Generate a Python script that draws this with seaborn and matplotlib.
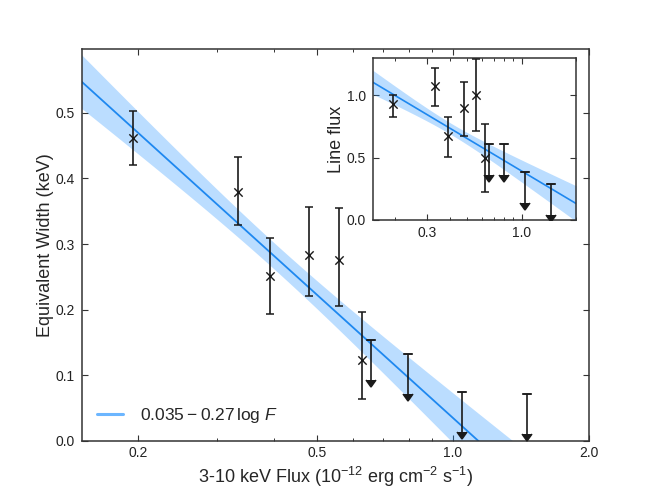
import numpy as np
import matplotlib
matplotlib.use("Agg")
import matplotlib.pyplot as plt
from matplotlib.lines import Line2D
from matplotlib.ticker import MultipleLocator, FormatStrFormatter, NullFormatter, FixedLocator, FuncFormatter
import seaborn as sns

# ---------------- data ----------------
# source fluxes (1e-12 erg/cm2/s)
det_flux = [0.195, 0.333, 0.392, 0.478, 0.558, 0.629]
ul_flux = [0.658, 0.796, 1.048, 1.46]

# main panel: equivalent width (keV)
ew = [0.461, 0.380, 0.252, 0.284, 0.276, 0.124]
ew_err_lo = [0.041, 0.051, 0.058, 0.063, 0.070, 0.060]
ew_err_hi = [0.042, 0.053, 0.057, 0.073, 0.079, 0.072]
ew_ul = [0.154, 0.133, 0.074, 0.071]

# inset: line flux
lf = [0.93, 1.072, 0.672, 0.896, 1.003, 0.496]
lf_err_lo = [0.106, 0.160, 0.163, 0.224, 0.291, 0.272]
lf_err_hi = [0.073, 0.147, 0.157, 0.208, 0.287, 0.275]
lf_ul = [0.611, 0.611, 0.384, 0.288]

# fits: y = a + b ln F, band half-width sqrt(w0^2 + (ws (lnF - c))^2)
fit_main = dict(a=0.035, b=-0.27, c=-0.9, w0=0.020, ws=0.0358)
fit_inset = dict(a=0.392, b=-0.376, c=-0.9, w0=0.045, ws=0.085)

fit_label = r"$0.035\:-\:0.27\,\log\,F$"
xlabel = r"3-10 keV Flux (10$^{-12}$ erg cm$^{-2}$ s$^{-1}$)"
ylabel_main = "Equivalent Width (keV)"
ylabel_inset = "Line flux"
main_xticks = [0.2, 0.5, 1.0, 2.0]
main_xminor = [0.3, 0.4, 0.6, 0.7, 0.8, 0.9]
inset_xticks = [0.3, 1.0]
inset_xminor = [0.2, 0.4, 0.5, 0.6, 0.7, 0.8, 0.9, 2.0]

# ---------------- style ----------------
sns.set_style("ticks")
plt.rcParams["font.family"] = ["Liberation Sans", "DejaVu Sans"]
plt.rcParams["mathtext.fontset"] = "custom"
plt.rcParams["mathtext.rm"] = "Liberation Sans"
plt.rcParams["mathtext.it"] = "Liberation Sans:italic"
plt.rcParams["mathtext.bf"] = "Liberation Sans:bold"

BLUE = "#1e88f0"
BAND = "#1e90ff"
EC = "#1a1a1a"
FRAME = "#333333"

fig = plt.figure(figsize=(6.54, 4.91), dpi=100)
ax = fig.add_axes([0.125, 0.102, 0.775, 0.798])
axin = fig.add_axes([0.570, 0.552, 0.311, 0.330])

xgrid = np.geomspace(0.15, 2.0, 300)
fmt1 = FuncFormatter(lambda v, p: f"{v:.1f}")


def draw(axx, yv, lo, hi, ul, ul_len, fit, majors, minors, lw_line=1.3):
    lnx = np.log(xgrid)
    yfit = fit["a"] + fit["b"] * lnx
    w = np.sqrt(fit["w0"] ** 2 + (fit["ws"] * (lnx - fit["c"])) ** 2)
    axx.fill_between(xgrid, yfit - w, yfit + w, color=BAND, alpha=0.3, lw=0, zorder=1)
    sns.lineplot(x=xgrid, y=yfit, ax=axx, color=BLUE, lw=lw_line, zorder=2, legend=False)
    axx.errorbar(det_flux, yv, yerr=[lo, hi], fmt="none", ecolor=EC, elinewidth=1.2,
                 capsize=3, capthick=1.1, zorder=3)
    sns.scatterplot(x=det_flux, y=yv, ax=axx, marker="x", color=EC, s=36,
                    linewidth=1.0, zorder=4, legend=False)
    eb = axx.errorbar(ul_flux, ul, yerr=ul_len, uplims=True, fmt="none", ecolor=EC,
                      elinewidth=1.2, capsize=3, capthick=1.1, zorder=3)
    for cl in eb[1]:
        cl.set_markerfacecolor(EC)
        cl.set_markeredgecolor(EC)
        cl.set_markersize(6.5)
    axx.plot(ul_flux, ul, ls="none", marker="_", ms=6, mew=1.1, color=EC, zorder=3)
    axx.set_xscale("log")
    axx.set_xlim(0.15, 2.0)
    axx.xaxis.set_major_locator(FixedLocator(majors))
    axx.xaxis.set_major_formatter(fmt1)
    axx.xaxis.set_minor_locator(FixedLocator(minors))
    axx.xaxis.set_minor_formatter(NullFormatter())
    for s in axx.spines.values():
        s.set_color(FRAME)
        s.set_linewidth(1.1)
    axx.tick_params(which="both", direction="in", top=True, right=True,
                    colors=FRAME, labelcolor="#222222")
    axx.tick_params(which="major", length=4.5, width=0.8, labelsize=10)
    axx.tick_params(axis="y", which="major", pad=5)
    axx.tick_params(axis="x", which="major", pad=4)
    axx.tick_params(which="minor", length=2.5, width=0.7)


draw(ax, ew, ew_err_lo, ew_err_hi, ew_ul, 0.061, fit_main, main_xticks, main_xminor)
ax.set_ylim(0, 0.597)
ax.yaxis.set_major_locator(MultipleLocator(0.1))
ax.yaxis.set_major_formatter(FormatStrFormatter("%.1f"))
ax.set_xlabel(xlabel, fontsize=13, labelpad=3)
ax.set_ylabel(ylabel_main, fontsize=13, labelpad=1)

handle = Line2D([], [], color=BAND, alpha=0.65, lw=2.2)
ax.legend([handle], [fit_label], loc="lower left", frameon=False, fontsize=12.5,
          handlelength=1.45, handletextpad=1.0, borderaxespad=0.3, borderpad=0.6)

draw(axin, lf, lf_err_lo, lf_err_hi, lf_ul, 0.248, fit_inset, inset_xticks, inset_xminor, lw_line=1.2)
axin.set_ylim(0, 1.3)
axin.yaxis.set_major_locator(MultipleLocator(0.5))
axin.yaxis.set_major_formatter(FormatStrFormatter("%.1f"))
axin.set_ylabel(ylabel_inset, fontsize=13, labelpad=1)
axin.set_xlabel("")

fig.savefig("out.png", dpi=100)
